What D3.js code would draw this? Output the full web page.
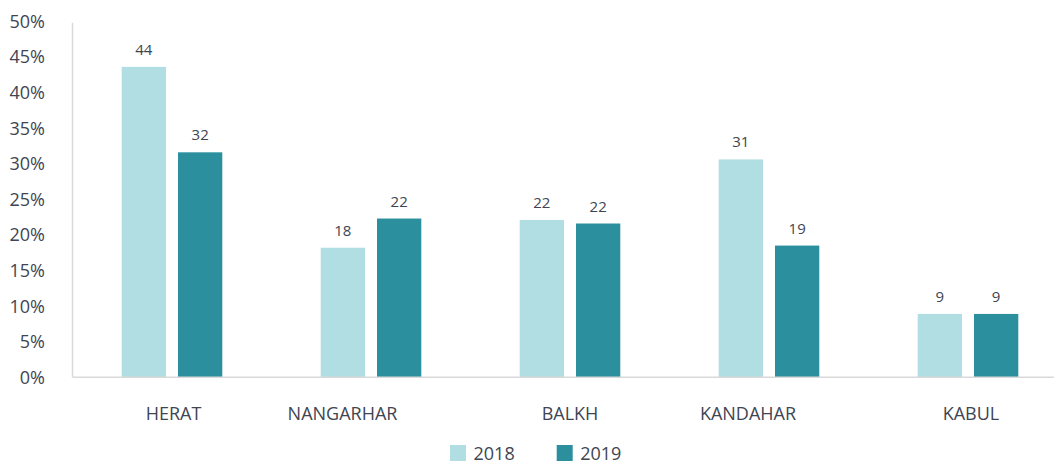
<!DOCTYPE html>
<html>
<head>
<meta charset="utf-8">
<script src="https://cdn.jsdelivr.net/npm/d3@7"></script>
<style>
  body { margin: 0; background: #fff; }
  svg { display: block; font-family: "Open Sans", "Noto Sans", sans-serif; }
  text { fill: #404552; }
</style>
</head>
<body>
<svg id="chart" width="1054" height="463"></svg>
<script>
(function() {
  'use strict';

  var provinces = ['HERAT', 'NANGARHAR', 'BALKH', 'KANDAHAR', 'KABUL'];
  var years = ['2018', '2019'];
  var values2018 = [43.6, 18.2, 22.1, 30.6, 8.9];
  var values2019 = [31.6, 22.3, 21.6, 18.5, 8.9];
  var yTicks = [0, 5, 10, 15, 20, 25, 30, 35, 40, 45, 50];

  var colors = { '2018': '#b0dee3', '2019': '#2c8f9e' };
  var seriesValues = { '2018': values2018, '2019': values2019 };

  // the source sheet had the category labels sitting off-centre
  var labelNudge = { HERAT: 1.5, NANGARHAR: -28.5, BALKH: 0, KANDAHAR: -21, KABUL: 3 };

  var svg = d3.select('#chart'),
    left = 72.5,
    step = 199,
    barW = 44.3,
    barGap = 12,
    axisColor = '#d9d9d9';

  var x = d3.scaleBand()
    .domain(provinces)
    .range([left, left + step * provinces.length])
    .padding(0);

  var y = d3.scaleLinear()
    .domain([0, 50])
    .range([377.3, 21.3]);

  var xSeries = d3.scaleBand()
    .domain(years)
    .range([-(barW + barGap / 2), barW + barGap / 2])
    .paddingInner(barGap / (barW + barGap));

  // y tick labels (no gridlines in the source)
  svg.append('g')
    .selectAll('text')
    .data(yTicks)
    .join('text')
    .attr('x', 45)
    .attr('y', function(d) { return y(d) + 6.5; })
    .attr('text-anchor', 'end')
    .style('font-size', '18px')
    .text(function(d) { return d + '%'; });

  // bars
  var rows = [];
  provinces.forEach(function(p, i) {
    years.forEach(function(yr) {
      rows.push({ province: p, year: yr, value: seriesValues[yr][i] });
    });
  });

  var center = function(p) { return x(p) + x.bandwidth() / 2; };

  svg.append('g')
    .selectAll('rect')
    .data(rows)
    .join('rect')
    .attr('x', function(d) { return center(d.province) + xSeries(d.year); })
    .attr('y', function(d) { return y(d.value); })
    .attr('width', xSeries.bandwidth())
    .attr('height', function(d) { return y(0) - y(d.value); })
    .attr('fill', function(d) { return colors[d.year]; });

  // value labels
  svg.append('g')
    .selectAll('text')
    .data(rows)
    .join('text')
    .attr('x', function(d) { return center(d.province) + xSeries(d.year) + xSeries.bandwidth() / 2; })
    .attr('y', function(d) { return y(d.value) - 12; })
    .attr('text-anchor', 'middle')
    .style('font-size', '15px')
    .text(function(d) { return Math.round(d.value); });

  // axis lines
  svg.append('line')
    .attr('x1', left).attr('x2', left)
    .attr('y1', 22.7).attr('y2', y(0))
    .attr('stroke', axisColor).attr('stroke-width', 1.5);
  svg.append('line')
    .attr('x1', left).attr('x2', 1054)
    .attr('y1', y(0)).attr('y2', y(0))
    .attr('stroke', axisColor).attr('stroke-width', 1.5);

  // category labels
  svg.append('g')
    .selectAll('text')
    .data(provinces)
    .join('text')
    .attr('x', function(d) { return center(d) + labelNudge[d]; })
    .attr('y', 419.5)
    .attr('text-anchor', 'middle')
    .style('font-size', '18px')
    .text(function(d) { return d; });

  // legend
  var legendX = [450, 556.7];
  var legend = svg.append('g')
    .selectAll('g')
    .data(years)
    .join('g')
    .attr('transform', function(d, i) { return 'translate(' + legendX[i] + ',445)'; });
  legend.append('rect')
    .attr('width', 16).attr('height', 16)
    .attr('fill', function(d) { return colors[d]; });
  legend.append('text')
    .attr('x', 23.5)
    .attr('y', 14.5)
    .style('font-size', '18px')
    .text(function(d) { return d; });
}).call(this);
</script>
</body>
</html>
